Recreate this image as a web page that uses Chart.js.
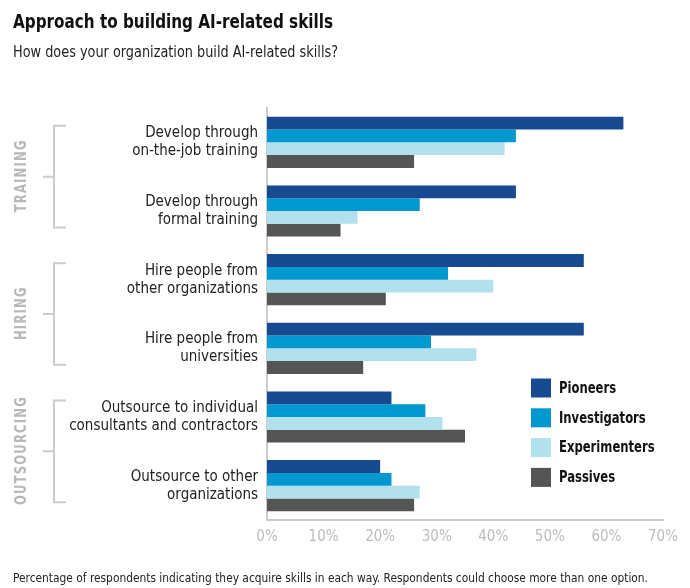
<!DOCTYPE html>
<html>
<head>
<meta charset="utf-8">
<script src="https://cdn.jsdelivr.net/npm/chart.js@4"></script>
<style>
  html, body { margin: 0; padding: 0; background: #fff; }
  #wrap { width: 690px; height: 588px; }
</style>
</head>
<body>
<div id="wrap"><canvas id="chart" width="690" height="588"></canvas></div>
<script>
// chart data
const categories = [
    ["Develop through", "on-the-job training"],
    ["Develop through", "formal training"],
    ["Hire people from", "other organizations"],
    ["Hire people from", "universities"],
    ["Outsource to individual", "consultants and contractors"],
    ["Outsource to other", "organizations"]
];
const seriesNames = ["Pioneers", "Investigators", "Experimenters", "Passives"];
const pioneers = [63, 44, 56, 56, 22, 20];
const investigators = [44, 27, 32, 29, 28, 22];
const experimenters = [42, 16, 40, 37, 31, 27];
const passives = [26, 13, 21, 17, 35, 26];
const groupNames = ["TRAINING", "HIRING", "OUTSOURCING"];
const groupRanges = [[0, 1], [2, 3], [4, 5]];
const xMax = 70;
const xStep = 10;

const colors = ["#174a91", "#0099cf", "#b2e0ec", "#555555"];
const FONT = "'DejaVu Sans Condensed', 'Liberation Sans Narrow', sans-serif";
const NARROW = 0.86; // squeeze text a bit to look like the condensed original

// draw text squeezed horizontally
function narrowText(ctx, text, x, y, sx) {
    ctx.save();
    ctx.translate(x, y);
    ctx.scale(sx, 1);
    ctx.fillText(text, 0, 0);
    ctx.restore();
}

// squeeze text so it ends up a given width
function fitText(ctx, text, x, y, w) {
    narrowText(ctx, text, x, y, w / ctx.measureText(text).width);
}

// Title, subtitle, footnote, group brackets and legend drawn on the canvas.
const decorations = {
    id: "decorations",
    afterDraw(chart) {
        const ctx = chart.ctx;
        const y = chart.scales.y;
        ctx.save();

        ctx.fillStyle = "#111";
        ctx.textAlign = "left";
        ctx.textBaseline = "alphabetic";
        ctx.font = "bold 20px " + FONT;
        fitText(ctx, "Approach to building AI-related skills", 13, 28, 320);
        ctx.fillStyle = "#222";
        ctx.font = "15px " + FONT;
        fitText(ctx, "How does your organization build AI-related skills?", 13, 57, 325);
        ctx.font = "13px " + FONT;
        fitText(ctx, "Percentage of respondents indicating they acquire skills in each way. Respondents could choose more than one option.", 13, 582, 635);

        // group brackets and rotated group names
        ctx.font = "bold 16px " + FONT;
        ctx.letterSpacing = "1.5px";
        const gsx = 73 / ctx.measureText(groupNames[0]).width;
        groupRanges.forEach((r, i) => {
            const top = y.getPixelForValue(r[0]) - 16.5;
            const bottom = y.getPixelForValue(r[1]) + 16.5;
            const mid = (top + bottom) / 2;
            ctx.strokeStyle = "#cccccc";
            ctx.lineWidth = 2;
            ctx.beginPath();
            ctx.moveTo(66, top);
            ctx.lineTo(54, top);
            ctx.lineTo(54, bottom);
            ctx.lineTo(66, bottom);
            ctx.moveTo(54, mid);
            ctx.lineTo(43, mid);
            ctx.stroke();

            ctx.save();
            ctx.translate(21, mid);
            ctx.rotate(-Math.PI / 2);
            ctx.scale(gsx, 1);
            ctx.fillStyle = "#b8b8b8";
            ctx.textAlign = "center";
            ctx.textBaseline = "middle";
            ctx.fillText(groupNames[i], 1, 1);
            ctx.restore();
        });
        ctx.letterSpacing = "0px";

        // legend
        chart.data.datasets.forEach((ds, i) => {
            const cy = 388 + i * 29.8;
            ctx.fillStyle = ds.backgroundColor;
            ctx.fillRect(531, cy - 9.5, 20, 19);
            ctx.fillStyle = "#111";
            ctx.font = "bold 15px " + FONT;
            ctx.textAlign = "left";
            ctx.textBaseline = "middle";
            narrowText(ctx, ds.label, 559, cy + 1, NARROW);
        });

        ctx.restore();
    }
};

const seriesValues = [pioneers, investigators, experimenters, passives];

new Chart(document.getElementById("chart"), {
    type: "bar",
    data: {
        labels: categories,
        datasets: seriesNames.map((name, i) => ({
            label: name,
            data: seriesValues[i],
            backgroundColor: colors[i],
            borderWidth: 0,
            categoryPercentage: 0.745,
            barPercentage: 1.0
        }))
    },
    options: {
        indexAxis: "y",
        responsive: false,
        animation: false,
        layout: { padding: { top: 108, right: 27, left: 0, bottom: 0 } },
        plugins: {
            legend: { display: false },
            tooltip: { enabled: false }
        },
        scales: {
            x: {
                min: 0,
                max: xMax,
                grid: { display: false, drawTicks: false },
                border: { display: true, color: "#cccccc", width: 2 },
                ticks: {
                    stepSize: xStep,
                    padding: 8,
                    color: "#bdbdbd",
                    font: { family: FONT, size: 15 },
                    callback: (v) => v + "%"
                },
                afterFit: (s) => { s.height = 68; }
            },
            y: {
                grid: { display: false, drawTicks: false },
                border: { display: true, color: "#cccccc", width: 2 },
                ticks: {
                    padding: 9,
                    color: "#222",
                    font: { family: FONT, size: 15, lineHeight: 1.2 }
                },
                afterFit: (s) => { s.width = 267; }
            }
        }
    },
    plugins: [decorations]
});
</script>
</body>
</html>
